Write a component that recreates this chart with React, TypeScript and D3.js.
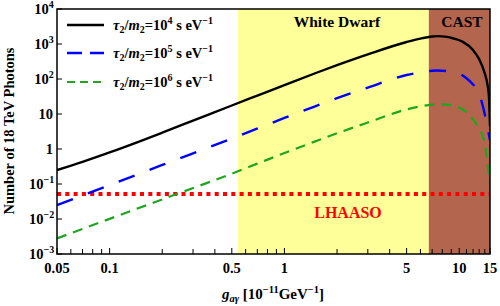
import React from "react";
import * as d3 from "d3";

const gBlack = [0.05, 0.07, 0.1, 0.15, 0.2, 0.3, 0.5, 0.7, 1, 1.5, 2, 3, 5, 6, 7, 7.5, 8.5, 9.2, 10.5, 12, 13, 14, 14.5, 14.8, 15];
const black = [0.25, 0.43, 0.8, 1.69, 2.93, 6.45, 17.5, 33.6, 67, 146, 248, 504, 1140, 1430, 1640, 1680, 1600, 1460, 1150, 670, 370, 145, 70, 30, 4.5];

const gBlue = [0.05, 0.1, 0.2, 0.5, 0.7, 1, 1.5, 2, 3, 5, 6, 7, 7.5, 8.5, 9.9, 11, 12, 12.8, 13.6, 14.5, 15];
const blue = [0.025, 0.093, 0.35, 1.99, 3.83, 7.7, 16.6, 28.2, 57, 130, 155, 172, 175, 168, 146, 105, 70, 46, 18, 4.3, 1.8];

const gGreen = [0.05, 0.1, 0.2, 0.5, 0.7, 1, 1.5, 2, 3, 5, 6, 7, 7.5, 8.5, 9.4, 11.2, 12.8, 14, 14.5, 15];
const green = [0.0028, 0.0101, 0.0364, 0.198, 0.382, 0.766, 1.65, 2.81, 5.7, 13.5, 16.5, 18.5, 19, 18.5, 17, 10.5, 4.3, 1.45, 0.4, 0.1];

const lhaaso = 0.052;
const whiteDwarf = [0.54, 6.7];
const cast = [6.7, 15];

const xMajor = [0.05, 0.1, 0.5, 1, 5, 10, 15];
const xMajorLabels = ["0.05", "0.1", "0.5", "1", "5", "10", "15"];
const xMinor = [0.06, 0.07, 0.08, 0.09, 0.2, 0.3, 0.4, 0.6, 0.7, 0.8, 0.9, 2, 3, 4, 6, 7, 8, 9, 11, 12, 13, 14];
const yTicks = [1e-3, 1e-2, 1e-1, 1, 10, 100, 1e3, 1e4];
const yBase = ["10", "10", "10", "1", "10", "10", "10", "10"];
const ySup = ["\u22123", "\u22122", "\u22121", "", "", "2", "3", "4"];
const legendExp = ["4", "5", "6"];

const FONT = "'Liberation Serif', 'Times New Roman', serif";

export default function App() {
  const L = 57, R = 490, T = 9, B = 254;
  const x = d3.scaleLog().domain([0.05, 15]).range([L, R]);
  const y = d3.scaleLog().domain([1e-3, 1e4]).range([B, T]);

  const mk = (gs: number[], vs: number[]) =>
    d3
      .line<number>()
      .x((_, i) => x(gs[i]))
      .y((v) => y(v))
      .curve(d3.curveMonotoneX)(vs) || "";

  const series = [
    { path: mk(gBlack, black), color: "#000000", dash: "none", legendDash: "none", w: 2.4 },
    { path: mk(gBlue, blue), color: "#0000FF", dash: "17,16", legendDash: "15,8", w: 2.4 },
    { path: mk(gGreen, green), color: "#1FA51F", dash: "10,7", legendDash: "8,5", w: 2.2 },
  ];

  const legendY = [25, 53, 82];

  return (
    <svg width={500} height={306} style={{ position: "absolute", left: 0, top: 0 }} fontFamily={FONT}>
      <defs>
        <clipPath id="plot">
          <rect x={L} y={T} width={R - L} height={B - T} />
        </clipPath>
      </defs>
      <rect x={0} y={0} width={500} height={306} fill="#fff" />
      <rect x={x(whiteDwarf[0])} y={T} width={x(whiteDwarf[1]) - x(whiteDwarf[0])} height={B - T} fill="#FFFF99" />
      <rect x={x(cast[0])} y={T} width={x(cast[1]) - x(cast[0])} height={B - T} fill="#B3664D" />

      <g clipPath="url(#plot)">
        <line x1={L} x2={R} y1={y(lhaaso)} y2={y(lhaaso)} stroke="#FF0000" strokeWidth={4} strokeDasharray="4,4.3" />
        {series.map((s, i) => (
          <path key={i} d={s.path} fill="none" stroke={s.color} strokeWidth={s.w} strokeDasharray={s.dash} />
        ))}
      </g>

      {xMajor.map((v, i) => (
        <line key={"xm" + i} x1={x(v)} x2={x(v)} y1={B} y2={B - 6} stroke="#000" strokeWidth={1} />
      ))}
      {xMinor.map((v, i) => (
        <line key={"xn" + i} x1={x(v)} x2={x(v)} y1={B} y2={B - 5} stroke="#000" strokeWidth={1} />
      ))}
      {yTicks.map((v, i) => (
        <line key={"yt" + i} x1={L} x2={L + 5} y1={y(v)} y2={y(v)} stroke="#000" strokeWidth={1} />
      ))}

      <rect x={L} y={T} width={R - L} height={B - T} fill="none" stroke="#000" strokeWidth={1.5} />

      {xMajor.map((v, i) => (
        <text key={"xl" + i} x={x(v)} y={273} textAnchor="middle" fontSize={14.5} fontWeight="bold">
          {xMajorLabels[i]}
        </text>
      ))}
      {yTicks.map((v, i) => (
        <text key={"yl" + i} x={ySup[i] ? 54 - ySup[i].length * 5.2 : 53} y={y(v) + 5} textAnchor="end" fontSize={14.5} fontWeight="bold">
          {yBase[i]}
        </text>
      ))}
      {yTicks.map((v, i) =>
        ySup[i] ? (
          <text key={"ys" + i} x={54 - ySup[i].length * 5.2} y={y(v) - 1} textAnchor="start" fontSize={10} fontWeight="bold">
            {ySup[i]}
          </text>
        ) : null
      )}

      <text x={273} y={299} textAnchor="middle" fontSize={15} fontWeight="bold">
        <tspan fontStyle="italic">g</tspan>
        <tspan fontSize={10.5} fontStyle="italic" dy={3}>a</tspan>
        <tspan fontSize={10.5} fontStyle="italic">γ</tspan>
        <tspan dy={-3}> [10</tspan>
        <tspan fontSize={10.5} dy={-6}>−11</tspan>
        <tspan dy={6}>GeV</tspan>
        <tspan fontSize={10.5} dy={-6}>−1</tspan>
        <tspan dy={6}>]</tspan>
      </text>
      <text transform="translate(14,131) rotate(-90)" textAnchor="middle" fontSize={14.5} fontWeight="bold">
        Number of 18 TeV Photons
      </text>

      <text x={337} y={27} textAnchor="middle" fontSize={15.5} fontWeight="bold">White Dwarf</text>
      <text x={462} y={27} textAnchor="middle" fontSize={15.5} fontWeight="bold">CAST</text>
      <text x={348} y={218} textAnchor="middle" fontSize={16} fontWeight="bold" fill="#FF0000">LHAASO</text>

      {series.map((s, i) => (
        <g key={"lg" + i}>
          <line x1={67} x2={104} y1={legendY[i]} y2={legendY[i]} stroke={s.color} strokeWidth={s.w} strokeDasharray={s.legendDash} />
          <text x={113} y={legendY[i] + 5} fontSize={14.5} fontWeight="bold">
            <tspan fontStyle="italic">τ</tspan>
            <tspan fontSize={10} dy={3}>2</tspan>
            <tspan dy={-3}>/</tspan>
            <tspan fontStyle="italic">m</tspan>
            <tspan fontSize={10} dy={3}>2</tspan>
            <tspan dy={-3}>=10</tspan>
            <tspan fontSize={10} dy={-6}>{legendExp[i]}</tspan>
            <tspan dy={6}> s eV</tspan>
            <tspan fontSize={10} dy={-6}>−1</tspan>
          </text>
        </g>
      ))}
    </svg>
  );
}
